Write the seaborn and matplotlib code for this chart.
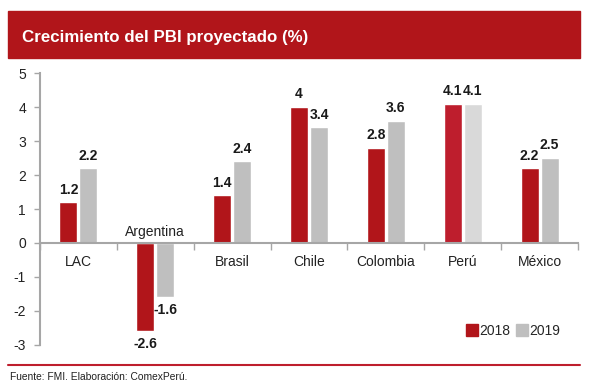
import pandas as pd
import matplotlib.pyplot as plt
import seaborn as sns
from matplotlib.patches import Rectangle
from matplotlib.lines import Line2D

# data
paises = ['LAC', 'Argentina', 'Brasil', 'Chile', 'Colombia', 'Perú', 'México']
pbi_2018 = [1.2, -2.6, 1.4, 4.0, 2.8, 4.1, 2.2]
pbi_2019 = [2.2, -1.6, 2.4, 3.4, 3.6, 4.1, 2.5]
anios = ['2018', '2019']
labels_2018 = ['1.2', '-2.6', '1.4', '4', '2.8', '4.1', '2.2']
labels_2019 = ['2.2', '-1.6', '2.4', '3.4', '3.6', '4.1', '2.5']

RED = '#B1151A'
GRAY = '#BFBFBF'
RED_PERU = '#BE1E2D'
GRAY_PERU = '#D9D9D9'
AXIS_GRAY = '#A6A6A6'

df = pd.DataFrame({
    'pais': paises * 2,
    'anio': [anios[0]] * len(paises) + [anios[1]] * len(paises),
    'valor': pbi_2018 + pbi_2019,
})

sns.set_style('white')
plt.rcParams['font.family'] = ['Liberation Sans', 'DejaVu Sans']
plt.rcParams['axes.unicode_minus'] = False

fig = plt.figure(figsize=(5.94, 3.90), dpi=100)
ax = fig.add_axes([0.0673, 0.1154, 0.9057, 0.6974])

sns.barplot(data=df, x='pais', y='valor', hue='anio', palette=[RED, GRAY],
            saturation=1, width=0.52, gap=0.1, ax=ax, legend=False)

# Peru bars highlighted with lighter tones
ax.containers[0][5].set_facecolor(RED_PERU)
ax.containers[1][5].set_facecolor(GRAY_PERU)

ax.bar_label(ax.containers[0], labels=labels_2018, padding=4,
             fontsize=10, fontweight='bold', color='#1a1a1a')
ax.bar_label(ax.containers[1], labels=labels_2019, padding=4,
             fontsize=10, fontweight='bold', color='#1a1a1a')

ax.set_ylim(-3, 5)
ax.set_xlim(-0.5, len(paises) - 0.5)
ax.set_yticks(range(-3, 6))
ax.set_yticklabels([str(v) for v in range(-3, 6)], fontsize=10, color='#222222')
ax.set_xlabel('')
ax.set_ylabel('')

# x axis at zero, boundary ticks
for s in ['top', 'right']:
    ax.spines[s].set_visible(False)
ax.spines['left'].set_color(AXIS_GRAY)
ax.spines['bottom'].set_color(AXIS_GRAY)
ax.spines['bottom'].set_position(('data', 0))
ax.spines['left'].set_linewidth(1.5)
ax.spines['bottom'].set_linewidth(1.5)
ax.tick_params(axis='y', length=4, width=1, color=AXIS_GRAY, left=True, pad=6)
ax.set_xticks([i + 0.5 for i in range(-1, len(paises))], minor=True)
ax.tick_params(axis='x', which='minor', length=5, width=1, color=AXIS_GRAY,
               direction='out', bottom=True)
ax.tick_params(axis='x', which='major', length=0)
ax.set_xticklabels([])

xt = ax.get_xticks()
for x, p, v in zip(xt, paises, pbi_2018):
    if v < 0:
        ax.text(x, 0.12, p, ha='center', va='bottom', fontsize=10, color='#222222')
    else:
        ax.text(x, -0.36, p, ha='center', va='top', fontsize=10, color='#222222')

# legend
handles = [Line2D([], [], marker='s', linestyle='', color=c, markersize=8)
           for c in [RED, GRAY]]
ax.legend(handles, anios, loc='lower right', bbox_to_anchor=(0.99, -0.02),
          ncol=2, frameon=False, fontsize=10, handlelength=0.6,
          handletextpad=0.2, columnspacing=0.6)

# title banner
fig.patches.append(Rectangle((0.0135, 0.851), 0.963, 0.121,
                             transform=fig.transFigure, color=RED, zorder=0))
fig.text(0.037, 0.905, 'Crecimiento del PBI proyectado (%)', color='white',
         fontsize=12.2, fontweight='bold', va='center', ha='left')

# footer
fig.lines.append(Line2D([0.0135, 0.9765], [0.064, 0.064],
                        transform=fig.transFigure, color=RED_PERU, linewidth=1.5))
fig.text(0.016, 0.033, 'Fuente: FMI. Elaboración: ComexPerú.', fontsize=7.4,
         color='#222222', va='center', ha='left')

fig.savefig('out.png', dpi=100)
